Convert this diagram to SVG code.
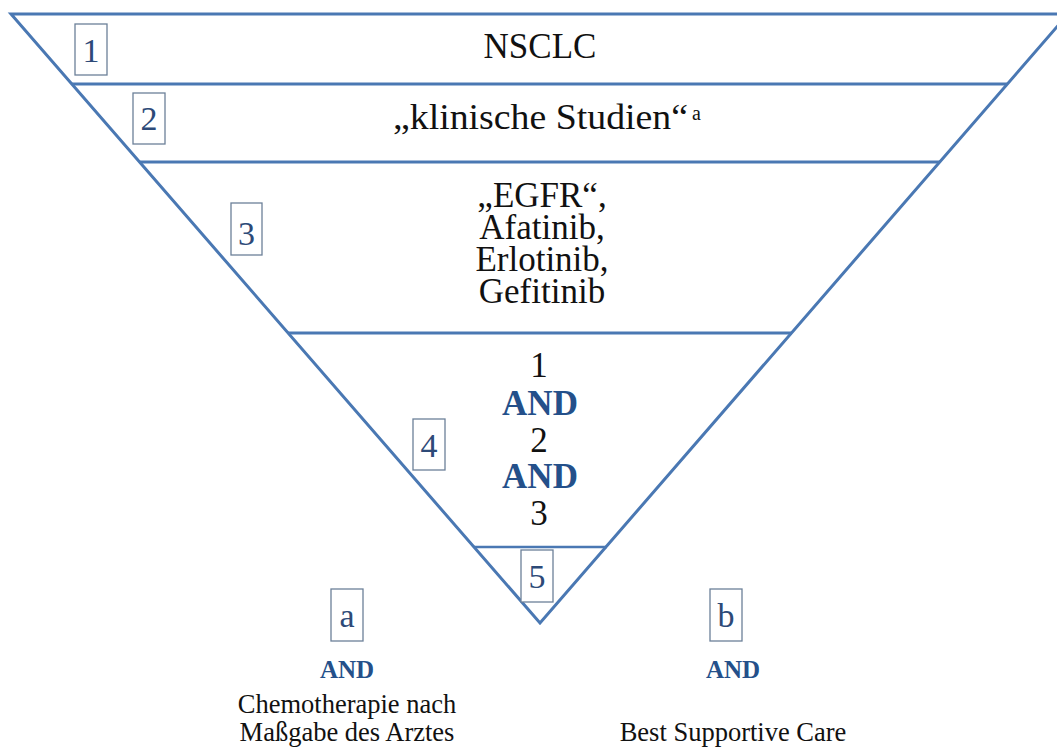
<svg xmlns="http://www.w3.org/2000/svg" width="1057" height="749" viewBox="0 0 1057 749">
<style>
.ln{stroke:#4a78b3;stroke-width:3;fill:none;stroke-linecap:butt}
.box{fill:#fff;stroke:#6c8099;stroke-width:1.3}
.num{font-family:"Liberation Serif",serif;font-size:34px;fill:#2d4a78;text-anchor:middle}
.t{font-family:"Liberation Serif",serif;font-size:35px;fill:#111;text-anchor:middle}
.and{font-family:"Liberation Serif",serif;font-weight:bold;font-size:35px;fill:#24508a;text-anchor:middle}
.and2{font-family:"Liberation Serif",serif;font-weight:bold;font-size:25px;fill:#24508a;text-anchor:middle}
.s{font-family:"Liberation Serif",serif;font-size:26.5px;fill:#111;text-anchor:middle}
</style>
<rect width="1057" height="749" fill="#fff"/>
<g id="funnel">
<polyline class="ln" points="1068,14 11,14 540,623 1068,14"/>
<line class="ln" x1="72" y1="84" x2="1007" y2="84"/>
<line class="ln" x1="140" y1="162" x2="940" y2="162"/>
<line class="ln" x1="288" y1="333" x2="792" y2="333"/>
<line class="ln" x1="474" y1="547" x2="607" y2="547" style="stroke-width:2.6"/>
</g>
<g id="level1">
<rect class="box" x="75" y="24" width="32" height="51"/>
<text class="num" x="91" y="62">1</text>
<text class="t" x="540" y="58">NSCLC</text>
</g>
<g id="level2">
<rect class="box" x="133" y="93" width="32" height="51"/>
<text class="num" x="149" y="130">2</text>
<text class="t" x="540.5" y="129" style="font-size:36px" textLength="295" lengthAdjust="spacingAndGlyphs">„klinische Studien“</text>
<text x="692" y="120" style="font-family:'Liberation Serif',serif;font-size:20px;fill:#111">a</text>
</g>
<g id="level3">
<rect class="box" x="231" y="203" width="31" height="52"/>
<text class="num" x="246.5" y="245">3</text>
<text class="t" x="542" y="207">„EGFR“,</text>
<text class="t" x="542" y="239">Afatinib,</text>
<text class="t" x="542" y="271">Erlotinib,</text>
<text class="t" x="542" y="303">Gefitinib</text>
</g>
<g id="level4">
<rect class="box" x="413" y="419" width="32" height="51"/>
<text class="num" x="429" y="457">4</text>
<text class="t" x="539" y="377">1</text>
<text class="and" x="540" y="415">AND</text>
<text class="t" x="539" y="452">2</text>
<text class="and" x="540" y="488">AND</text>
<text class="t" x="539" y="525">3</text>
</g>
<g id="level5">
<rect class="box" x="521" y="550" width="32" height="52"/>
<text class="num" x="537" y="588">5</text>
</g>
<g id="option-a">
<rect class="box" x="331" y="589" width="32" height="52"/>
<text class="num" x="347" y="627">a</text>
<text class="and2" x="347" y="678">AND</text>
<text class="s" x="347" y="713">Chemotherapie nach</text>
<text class="s" x="347" y="741">Maßgabe des Arztes</text>
</g>
<g id="option-b">
<rect class="box" x="710" y="589" width="32" height="52"/>
<text class="num" x="726" y="627">b</text>
<text class="and2" x="733" y="678">AND</text>
<text class="s" x="733" y="741">Best Supportive Care</text>
</g>
<g id="connectors"></g>
</svg>
